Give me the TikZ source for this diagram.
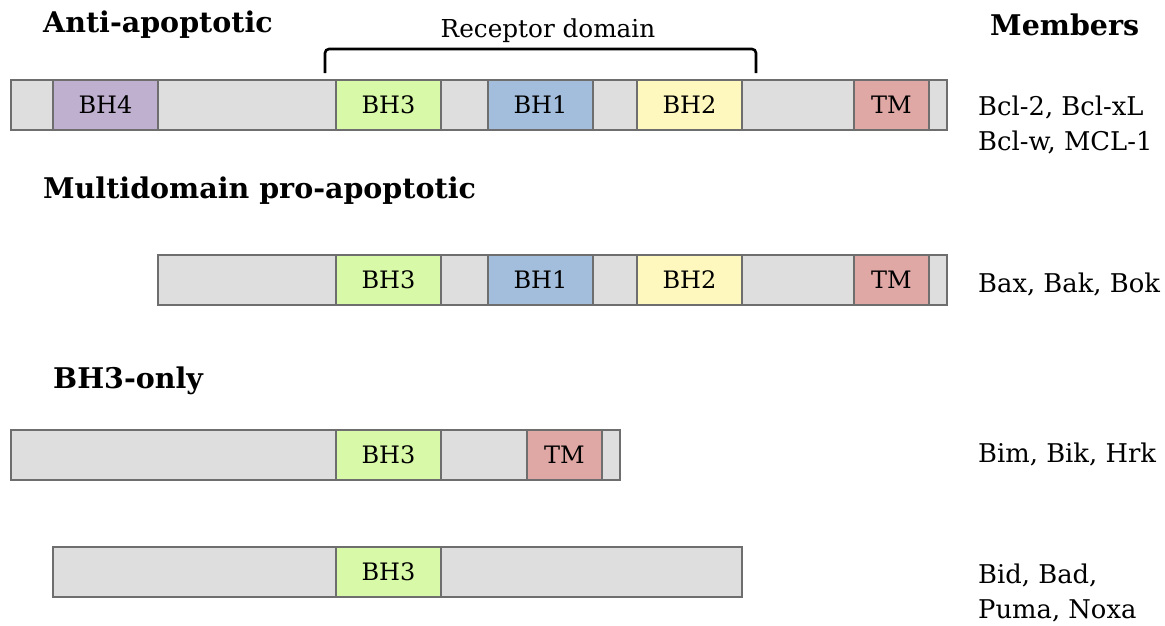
\documentclass[tikz,border=0pt]{standalone}
\usepackage{fontspec}
\setmainfont{DejaVu Serif}
\begin{document}
\begin{tikzpicture}[x=1pt,y=-1pt,
  seg/.style={draw=segborder, line width=1.3pt, inner sep=0pt, outer sep=0pt, anchor=north west, minimum height=50pt, font=\fontsize{24}{28}\selectfont},
  head/.style={anchor=base west, inner sep=0pt, font=\fontsize{28.5}{32}\selectfont\bfseries},
  memb/.style={anchor=base west, inner sep=0pt, font=\fontsize{25.8}{30}\selectfont},
  brace/.style={line width=2.6pt, rounded corners=4pt}]
\definecolor{segborder}{RGB}{110,110,110}
\definecolor{greyseg}{RGB}{222,222,222}
\definecolor{bhfour}{RGB}{191,176,207}
\definecolor{bhthree}{RGB}{216,250,168}
\definecolor{bhone}{RGB}{163,190,220}
\definecolor{bhtwo}{RGB}{254,248,190}
\definecolor{tmcol}{RGB}{223,168,165}
\newcommand{\segbox}[6]{\node[seg, fill=#5, minimum width={(#3)-(#2)}] (#1) at (#2,#4) {#6};}
\useasboundingbox (0,0) rectangle (1165,625);
% Row 1
\segbox{ra}{11}{947}{80}{greyseg}{}
\segbox{raf}{53}{158}{80}{bhfour}{BH4}
\segbox{rathree}{336}{441}{80}{bhthree}{BH3}
\segbox{raone}{488}{593}{80}{bhone}{BH1}
\segbox{ratwo}{637}{742}{80}{bhtwo}{BH2}
\segbox{ratm}{854}{929}{80}{tmcol}{TM}
% Row 2
\segbox{rb}{158}{947}{255}{greyseg}{}
\segbox{rbthree}{336}{441}{255}{bhthree}{BH3}
\segbox{rbone}{488}{593}{255}{bhone}{BH1}
\segbox{rbtwo}{637}{742}{255}{bhtwo}{BH2}
\segbox{rbtm}{854}{929}{255}{tmcol}{TM}
% Row 3
\segbox{rc}{11}{620}{430}{greyseg}{}
\segbox{rcthree}{336}{441}{430}{bhthree}{BH3}
\segbox{rctm}{527}{602}{430}{tmcol}{TM}
% Row 4
\segbox{rd}{53}{742}{547}{greyseg}{}
\segbox{rdthree}{336}{441}{547}{bhthree}{BH3}
% Bracket
\coordinate (bl) at (325,73);
\coordinate (br) at (756,73);
\draw[brace] (bl) -- (325,49) -- (756,49) -- (br);
\node[anchor=base, inner sep=0pt, font=\fontsize{24.7}{28}\selectfont] (rdlabel) at (548,37) {Receptor domain};
% Headings
\node[head] (h1) at (43,32) {Anti-apoptotic};
\node[head] (h2) at (43,198) {Multidomain pro-apoptotic};
\node[head] (h3) at (53,388) {BH3-only};
\node[head] (h4) at (990,35) {Members};
% Members
\node[memb] (m1) at (978,115) {Bcl-2, Bcl-xL};
\node[memb] (m2) at (978,150) {Bcl-w, MCL-1};
\node[memb] (m3) at (978,292) {Bax, Bak, Bok};
\node[memb] (m4) at (978,462) {Bim, Bik, Hrk};
\node[memb] (m5) at (978,583) {Bid, Bad,};
\node[memb] (m6) at (978,618) {Puma, Noxa};
\end{tikzpicture}
\end{document}
